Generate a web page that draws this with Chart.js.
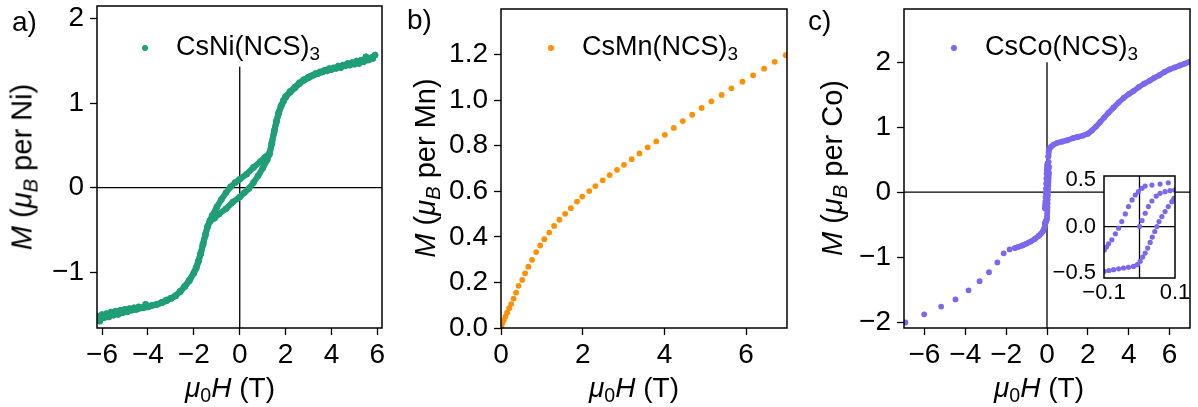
<!DOCTYPE html>
<html>
<head>
<meta charset="utf-8">
<script src="https://cdn.jsdelivr.net/npm/chart.js@4.4.1/dist/chart.umd.min.js"></script>
<style>
  body { margin: 0; width: 1198px; height: 407px; position: relative; overflow: hidden; background: #fff;
         font-family: 'Liberation Sans', Arial, sans-serif; color: #000; }
  canvas { position: absolute; }
  .txt { position: absolute; font-size: 27px; line-height: 27px; white-space: nowrap; }
  .ytitle { font-size: 29px; transform: translate(-50%, -50%) rotate(-90deg); }
  .xtitle { font-size: 28px; transform: translate(-50%, -50%); }
  .dot { position: absolute; width: 6px; height: 6px; border-radius: 50%; }
  sub { font-size: 70%; vertical-align: -0.28em; line-height: 0; }
</style>
</head>
<body>
<canvas id="chartA" width="400" height="407" style="left:0;top:0"></canvas>
<canvas id="chartB" width="400" height="407" style="left:400px;top:0"></canvas>
<canvas id="chartC" width="398" height="407" style="left:800px;top:0"></canvas>
<canvas id="chartInset" width="150" height="140" style="left:1040px;top:166px"></canvas>

<div class="txt" style="left:12px;top:8px;font-size:28px">a)</div>
<div class="txt" style="left:407px;top:6px;font-size:28px">b)</div>
<div class="txt" style="left:808px;top:7px;font-size:28px">c)</div>

<div class="dot" style="left:142px;top:45px;background:#1f9e77"></div>
<div class="txt" style="left:176px;top:33px">CsNi(NCS)<sub>3</sub></div>
<div class="dot" style="left:548px;top:45px;background:#ff9000"></div>
<div class="txt" style="left:582px;top:33px">CsMn(NCS)<sub>3</sub></div>
<div class="dot" style="left:951px;top:45px;background:#7b68ee"></div>
<div class="txt" style="left:985px;top:33px">CsCo(NCS)<sub>3</sub></div>

<div class="txt ytitle" style="left:22px;top:167px"><i>M</i> (<i>μ</i><sub><i>B</i></sub> per Ni)</div>
<div class="txt ytitle" style="left:425px;top:168px"><i>M</i> (<i>μ</i><sub><i>B</i></sub> per Mn)</div>
<div class="txt ytitle" style="left:832px;top:168px"><i>M</i> (<i>μ</i><sub><i>B</i></sub> per Co)</div>

<div class="txt xtitle" style="left:230px;top:387px"><i>μ</i><sub>0</sub><i>H</i> (T)</div>
<div class="txt xtitle" style="left:634px;top:387px"><i>μ</i><sub>0</sub><i>H</i> (T)</div>
<div class="txt xtitle" style="left:1039px;top:387px"><i>μ</i><sub>0</sub><i>H</i> (T)</div>

<script>
// a) CsNi(NCS)3, [H (T), M (muB per Ni)]
// sweep down from +6 T (upper branch)
const niDown = [
  [5.9,1.57],[5.75,1.54],[5.6,1.52],[5.5,1.55],[5.4,1.49],[5.3,1.51],[5.2,1.47],[5.1,1.50],[5.0,1.46],
  [4.9,1.48],[4.8,1.45],[4.7,1.47],[4.6,1.44],[4.5,1.45],[4.4,1.42],[4.3,1.44],[4.2,1.41],[4.1,1.42],
  [4.0,1.40],[3.9,1.41],[3.8,1.38],[3.7,1.39],[3.6,1.37],[3.5,1.37],[3.4,1.35],[3.3,1.35],[3.2,1.33],
  [3.1,1.32],[3.0,1.31],[2.8,1.28],[2.6,1.24],[2.4,1.19],[2.2,1.14],[2.0,1.08],[1.9,1.03],[1.8,0.97],
  [1.7,0.89],[1.6,0.79],[1.5,0.67],[1.4,0.53],[1.3,0.41],[1.1,0.36],[0.9,0.31],[0.6,0.24],[0.3,0.16],
  [0.0,0.10],[-0.2,0.06],[-0.4,0.01],[-0.6,-0.06],[-0.8,-0.14],[-1.0,-0.23],[-1.2,-0.33],[-1.3,-0.39],
  [-1.4,-0.46],[-1.5,-0.56],[-1.6,-0.67],[-1.7,-0.78],[-1.8,-0.87],[-1.9,-0.95],[-2.0,-1.01],[-2.2,-1.10],
  [-2.4,-1.17],[-2.6,-1.23],[-2.8,-1.28],[-3.0,-1.31],[-3.2,-1.34],[-3.4,-1.36],[-3.6,-1.38],[-3.8,-1.39],
  [-4.0,-1.41],[-4.2,-1.42],[-4.4,-1.43],[-4.6,-1.44],[-4.8,-1.45],[-5.0,-1.46],[-5.2,-1.48],[-5.4,-1.49],
  [-5.6,-1.50],[-5.8,-1.52],[-6.0,-1.53],[-6.2,-1.55]
];
// sweep up from -6 T (lower branch)
const niUp = [
  [-6.2,-1.52],[-6.1,-1.58],[-6.0,-1.50],[-5.9,-1.54],[-5.8,-1.49],[-5.7,-1.53],[-5.6,-1.47],[-5.5,-1.51],
  [-5.4,-1.46],[-5.3,-1.50],[-5.2,-1.45],[-5.1,-1.48],[-5.0,-1.44],[-4.9,-1.47],[-4.8,-1.43],[-4.7,-1.45],
  [-4.6,-1.42],[-4.5,-1.44],[-4.4,-1.41],[-4.2,-1.42],[-4.1,-1.38],[-4.0,-1.41],[-3.8,-1.39],[-3.6,-1.38],
  [-3.4,-1.36],[-3.2,-1.33],[-3.0,-1.31],[-2.8,-1.28],[-2.6,-1.23],[-2.4,-1.17],[-2.2,-1.10],[-2.0,-1.01],
  [-1.9,-0.95],[-1.8,-0.87],[-1.7,-0.78],[-1.6,-0.67],[-1.5,-0.56],[-1.4,-0.46],[-1.3,-0.40],[-1.1,-0.36],
  [-0.9,-0.31],[-0.6,-0.25],[-0.3,-0.17],[0.0,-0.11],[0.2,-0.06],[0.4,-0.01],[0.6,0.06],[0.8,0.14],
  [1.0,0.23],[1.2,0.33],[1.3,0.40],[1.4,0.52],[1.5,0.66],[1.6,0.78],[1.7,0.88],[1.8,0.96],[1.9,1.02],
  [2.0,1.07],[2.2,1.13],[2.4,1.18],[2.6,1.23],[2.8,1.27],[3.0,1.30],[3.2,1.33],[3.4,1.35],[3.6,1.37],
  [3.8,1.39],[4.0,1.40],[4.2,1.42],[4.4,1.43],[4.6,1.45],[4.8,1.46],[5.0,1.47],[5.2,1.48],[5.4,1.50],
  [5.6,1.51],[5.8,1.53]
];
const niZeroH = [[-7,0],[7,0]];
const niZeroV = [[0,-3],[0,1.43]];
const niXTicks = [-6,-4,-2,0,2,4,6];
const niYTicks = [-1,0,1,2];

// b) CsMn(NCS)3
const mnCurve = [
  [0.0,0.0],[0.01,0.009],[0.03,0.021],[0.07,0.035],[0.11,0.050],[0.15,0.067],[0.20,0.087],[0.25,0.105],
  [0.31,0.129],[0.37,0.155],[0.43,0.185],[0.52,0.211],[0.59,0.240],[0.67,0.269],[0.76,0.299],[0.86,0.333],
  [0.96,0.362],[1.06,0.390],[1.18,0.419],[1.30,0.448],[1.43,0.475],[1.57,0.501],[1.71,0.526],[1.86,0.555],
  [1.99,0.577],[2.16,0.601],[2.31,0.623],[2.49,0.648],[2.66,0.671],[2.84,0.694],[3.01,0.716],[3.20,0.741],
  [3.39,0.766],[3.59,0.793],[3.80,0.819],[4.01,0.848],[4.23,0.878],[4.45,0.908],[4.68,0.936],[4.91,0.966],
  [5.15,0.995],[5.40,1.023],[5.64,1.052],[5.91,1.081],[6.17,1.109],[6.44,1.138],[6.70,1.168],[6.97,1.197]
];
const mnXTicks = [0,2,4,6];
const mnYTicks = [0,0.2,0.4,0.6,0.8,1.0,1.2];

// c) CsCo(NCS)3
const coHighNeg = [
  [-6.93,-2.005],[-6.01,-1.88],[-5.18,-1.76],[-4.48,-1.65],[-3.84,-1.51],[-3.30,-1.37],
  [-2.84,-1.23],[-2.43,-1.08],[-2.12,-0.94],[-1.83,-0.88]
];
const coLowNeg = [
  [-1.57,-0.86],[-1.4,-0.84],[-1.2,-0.82],[-1.0,-0.79],[-0.8,-0.76],[-0.6,-0.72],[-0.4,-0.67],
  [-0.3,-0.64],[-0.2,-0.60],[-0.12,-0.54],[-0.08,-0.48]
];
const coPos = [
  [0.06,0.55],[0.08,0.62],[0.12,0.67],[0.2,0.70],[0.31,0.73],[0.5,0.76],[0.75,0.78],[1.0,0.80],
  [1.25,0.83],[1.5,0.85],[1.75,0.87],[2.0,0.90],[2.2,0.95],[2.4,1.01],[2.6,1.08],[2.8,1.15],[3.0,1.22],
  [3.25,1.30],[3.5,1.38],[3.75,1.45],[4.0,1.51],[4.25,1.56],[4.5,1.62],[4.75,1.67],[5.0,1.71],
  [5.25,1.76],[5.5,1.80],[5.75,1.85],[6.0,1.89],[6.25,1.92],[6.5,1.95],[6.75,1.98],[7.0,2.01]
];
// low-field loop (inset)
const coLoopDown = [
  [0.081,0.468],[0.058,0.454],[0.035,0.443],[0.016,0.433],[0.007,0.408],[-0.003,0.372],[-0.012,0.337],
  [-0.021,0.284],[-0.031,0.213],[-0.040,0.135],[-0.050,0.053],[-0.059,-0.018],[-0.068,-0.078],
  [-0.078,-0.142],[-0.087,-0.184],[-0.093,-0.220],[-0.099,-0.250]
];
const coLoopVirgin = [
  [0.0,0.0],[0.007,0.064],[0.016,0.142],[0.025,0.213],[0.035,0.273],[0.047,0.326],[0.058,0.355],
  [0.072,0.372],[0.086,0.383],[0.099,0.390]
];
const coLoopUp = [
  [-0.099,-0.479],[-0.086,-0.470],[-0.073,-0.461],[-0.059,-0.452],[-0.045,-0.443],[-0.031,-0.435],
  [-0.017,-0.426],[-0.006,-0.408],[0.002,-0.372],[0.009,-0.326],[0.016,-0.284],[0.023,-0.230],
  [0.030,-0.170],[0.036,-0.113],[0.043,-0.053],[0.049,0.0],[0.055,0.053],[0.063,0.106],[0.072,0.160],
  [0.081,0.213],[0.091,0.266],[0.097,0.300]
];
const coZeroH = [[-8,0],[8,0]];
const coZeroV = [[0,-3],[0,2.0]];
const coXTicks = [-6,-4,-2,0,2,4,6];
const coYTicks = [-2,-1,0,1,2];
const insetXTicks = [-0.1,0.1];
const insetYTicks = [-0.5,0,0.5];
const insetZeroH = [[-1,0],[1,0]];
const insetZeroV = [[0,-1],[0,1]];

const FONT = "'Liberation Sans', Arial, sans-serif";
const GREEN = '#1f9e77', ORANGE = '#ff9000', PURPLE = '#7b68ee';

const pts = arr => arr.map(([x, y]) => ({ x, y }));
const fmt = (v, dec) => (v < -1e-9 ? '\u2212' : '') + Math.abs(v).toFixed(dec);

function markers(arr, color, r, lineW) {
  return {
    data: pts(arr), showLine: lineW > 0, borderColor: color, borderWidth: lineW || 0,
    borderJoinStyle: 'round', borderCapStyle: 'round',
    pointRadius: r, pointBackgroundColor: color, pointBorderWidth: 0, backgroundColor: color
  };
}
function zeroLine(arr) {
  return { data: pts(arr), showLine: true, borderColor: '#000', borderWidth: 1.3, pointRadius: 0 };
}

function axis(o) {
  return {
    type: 'linear', min: o.min, max: o.max,
    afterBuildTicks: s => { s.ticks = o.ticks.map(v => ({ value: v })); },
    afterFit: s => {
      if (o.width != null) s.width = o.width;
      if (o.height != null) s.height = o.height;
      s.paddingLeft = s.paddingRight = s.paddingTop = s.paddingBottom = 0;
    },
    border: { display: false },
    grid: { drawOnChartArea: false, drawTicks: o.tickLen > 0, tickLength: o.tickLen, tickColor: '#000', tickWidth: 1.3 },
    ticks: {
      autoSkip: false, maxRotation: 0, padding: o.pad, color: '#000',
      font: { family: FONT, size: o.size }, callback: v => fmt(v, o.dec)
    }
  };
}

// box around the plot area, white fill for the inset
const frame = {
  id: 'frame',
  beforeDraw(chart, args, opts) {
    if (!opts.fill) return;
    const a = chart.chartArea, ctx = chart.ctx;
    ctx.save();
    ctx.fillStyle = '#fff';
    ctx.fillRect(a.left, a.top, a.right - a.left, a.bottom - a.top);
    ctx.restore();
  },
  afterDraw(chart) {
    const a = chart.chartArea, ctx = chart.ctx;
    ctx.save();
    ctx.strokeStyle = '#000';
    ctx.lineWidth = 1.5;
    ctx.strokeRect(a.left, a.top, a.right - a.left, a.bottom - a.top);
    ctx.restore();
  }
};

function makeChart(id, datasets, x, y, pad, fill) {
  return new Chart(document.getElementById(id), {
    type: 'scatter',
    data: { datasets },
    options: {
      responsive: false, animation: false, devicePixelRatio: 1, events: [],
      layout: { padding: pad },
      scales: { x, y },
      plugins: { legend: { display: false }, tooltip: { enabled: false }, frame: { fill } }
    },
    plugins: [frame]
  });
}

makeChart('chartA',
  [markers(niDown, GREEN, 3.3, 6), markers(niUp, GREEN, 3.3, 6), zeroLine(niZeroH), zeroLine(niZeroV)],
  axis({ min: -6.22, max: 6.2, ticks: niXTicks, dec: 0, size: 28, tickLen: 7, pad: 3, height: 79 }),
  axis({ min: -1.66, max: 2.15, ticks: niYTicks, dec: 0, size: 28, tickLen: 7, pad: 6, width: 97 }),
  { left: 0, right: 18, top: 6, bottom: 0 }, false);

makeChart('chartB',
  [markers(mnCurve, ORANGE, 2.9, 0)],
  axis({ min: 0, max: 7, ticks: mnXTicks, dec: 0, size: 28, tickLen: 7, pad: 3, height: 79 }),
  axis({ min: 0, max: 1.4, ticks: mnYTicks, dec: 1, size: 28, tickLen: 7, pad: 6, width: 101 }),
  { left: 0, right: 13, top: 9, bottom: 0 }, false);

makeChart('chartC',
  [markers(coHighNeg, PURPLE, 2.9, 0), markers(coLowNeg, PURPLE, 2.9, 5.5), markers(coPos, PURPLE, 2.9, 5.5),
   markers(coLoopDown, PURPLE, 2.9, 0), markers(coLoopVirgin, PURPLE, 2.9, 0), markers(coLoopUp, PURPLE, 2.9, 0),
   zeroLine(coZeroH), zeroLine(coZeroV)],
  axis({ min: -7, max: 7, ticks: coXTicks, dec: 0, size: 28, tickLen: 7, pad: 3, height: 79 }),
  axis({ min: -2.09, max: 2.82, ticks: coYTicks, dec: 0, size: 28, tickLen: 7, pad: 6, width: 104 }),
  { left: 0, right: 8, top: 9, bottom: 0 }, false);

makeChart('chartInset',
  [markers(coLoopDown, PURPLE, 2.6, 0), markers(coLoopVirgin, PURPLE, 2.6, 0), markers(coLoopUp, PURPLE, 2.6, 0),
   zeroLine(insetZeroH), zeroLine(insetZeroV)],
  axis({ min: -0.1, max: 0.1, ticks: insetXTicks, dec: 1, size: 22, tickLen: 0, pad: 2, height: 28 }),
  axis({ min: -0.55, max: 0.54, ticks: insetYTicks, dec: 1, size: 22, tickLen: 0, pad: 8, width: 64 }),
  { left: 0, right: 15, top: 10, bottom: 0 }, true);
</script>
</body>
</html>
